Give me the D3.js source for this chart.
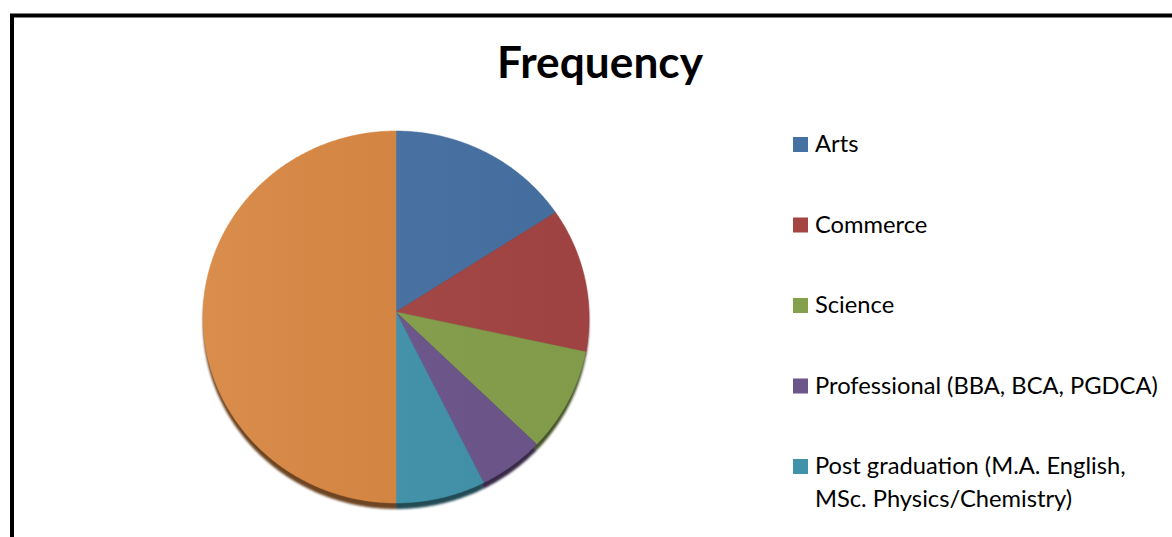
<!DOCTYPE html>
<html><head><meta charset="utf-8">
<script src="https://cdn.jsdelivr.net/npm/d3@7"></script>
<style>html,body{margin:0;padding:0;background:#fff;overflow:hidden}</style>
</head><body>
<svg id="c" width="1172" height="537"></svg>
<script>
const title = "Frequency";
const categories = ["Arts","Commerce","Science","Professional (BBA, BCA, PGDCA)","Post graduation (M.A. English, MSc. Physics/Chemistry)","Total"];
const legendLines = [["Arts"],["Commerce"],["Science"],["Professional (BBA, BCA, PGDCA)"],["Post graduation (M.A. English,","MSc. Physics/Chemistry)"],["Total"]];
const values = [31,25,18,11,15,100];
const colors = ["#4671A3","#A44544","#85A04C","#6C558B","#4193AB","#D7853F"];
const visibleLegendCount = 5; // the reference's legend is cropped after the 5th entry

const svg = d3.select("#c");
const FONT = "Lato, 'Open Sans', sans-serif";

// frame
svg.append("path").attr("d","M12,1200 L12,15.5 L1300,15.5").attr("fill","none").attr("stroke","#000").attr("stroke-width",4);

// title
const t = svg.append("text").attr("x",600).attr("y",78).attr("text-anchor","middle")
  .attr("font-family",FONT).attr("font-weight","bold").attr("font-size",40).attr("fill","#000").text(title);
{ const w = t.node().getComputedTextLength(); t.attr("font-size", 40*206/w); }

// pie geometry
const cx=396, cy=317, rx=193, ry=186, ax=396, ay=312;
const pie = d3.pie().value(d=>d).sort(null);
const arcs = pie(values);
const line = d3.line();
function slicePath(a){
  const pts=[[ax,ay]];
  const n=Math.max(2,Math.ceil((a.endAngle-a.startAngle)/0.01));
  for(let i=0;i<=n;i++){
    const ang=a.startAngle+(a.endAngle-a.startAngle)*i/n;
    pts.push([cx+rx*Math.sin(ang), cy-ry*Math.cos(ang)]);
  }
  return line(pts)+"Z";
}
const defs = svg.append("defs");
defs.append("filter").attr("id","blur").append("feGaussianBlur").attr("stdDeviation",1.2);
const g = defs.append("linearGradient").attr("id","shade").attr("x1","0").attr("y1","0").attr("x2","1").attr("y2","0");
g.append("stop").attr("offset","0").attr("stop-color","#fff").attr("stop-opacity",0.07);
g.append("stop").attr("offset","1").attr("stop-color","#000").attr("stop-opacity",0.03);

// shadow
svg.append("g").attr("transform","translate(0,6)").attr("filter","url(#blur)")
  .selectAll("path").data(arcs).join("path")
  .attr("d",slicePath).attr("fill",(d,i)=>d3.color(colors[i]).darker(1.9));
// slices
svg.append("g").selectAll("path").data(arcs).join("path")
  .attr("d",slicePath).attr("fill",(d,i)=>colors[i]).attr("stroke",(d,i)=>colors[i]).attr("stroke-width",0.5);
svg.append("ellipse").attr("cx",cx).attr("cy",cy).attr("rx",rx).attr("ry",ry).attr("fill","url(#shade)");

// legend
const y = d3.scaleLinear().domain([0,1]).range([137,217.5]);
const lg = svg.append("g");
const items = lg.selectAll("g").data(categories.slice(0,visibleLegendCount)).join("g").attr("transform",(d,i)=>`translate(793,${y(i)})`);
items.append("rect").attr("width",15).attr("height",15).attr("fill",(d,i)=>colors[i]);
const texts = items.append("text").attr("x",22).attr("y",15).attr("font-family",FONT).attr("font-size",22).attr("fill","#000");
texts.each(function(d,i){
  const el=d3.select(this);
  legendLines[i].forEach((l,j)=>el.append("tspan").attr("x",22).attr("dy",j?33:0).text(l));
});
{
  const probe = texts.filter((d,i)=>i===3).node().getComputedTextLength();
  const fs = 22*343/probe;
  texts.attr("font-size",fs);
}
</script>
</body></html>
